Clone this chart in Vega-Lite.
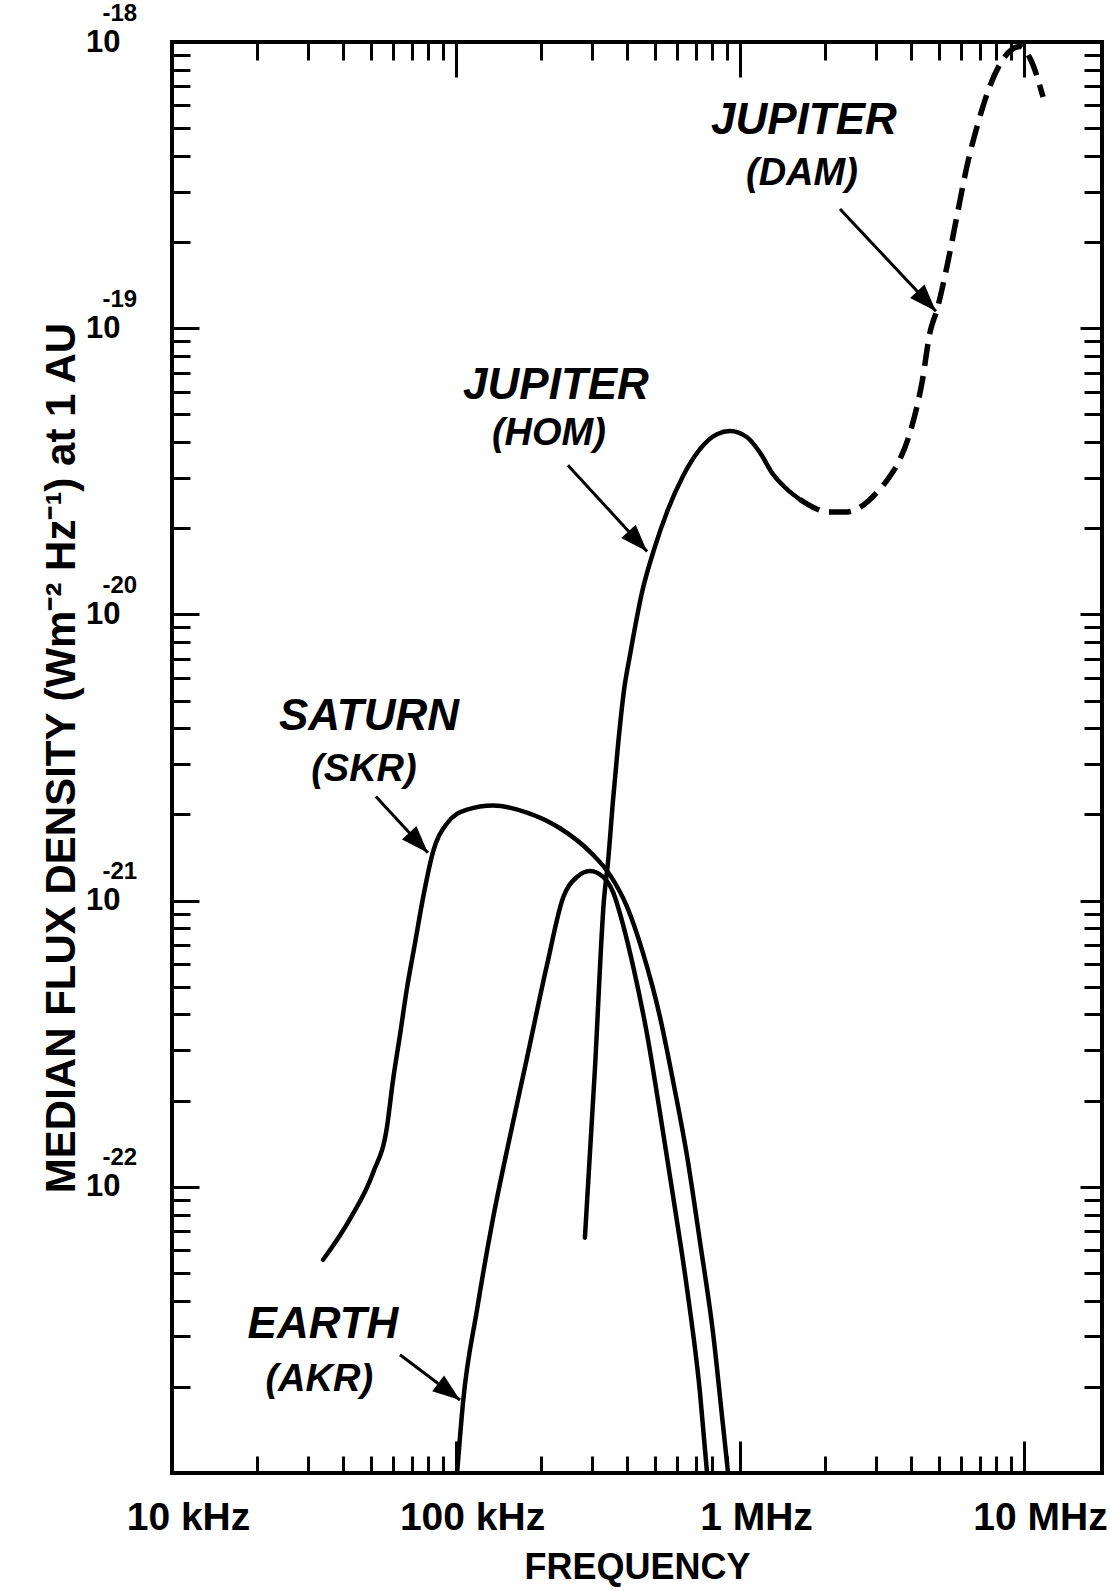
{
  "$schema": "https://vega.github.io/schema/vega-lite/v6.json",
  "width": 930,
  "height": 1431,
  "autosize": {"type": "none"},
  "padding": {"left": 172, "top": 42, "right": 8, "bottom": 118},
  "background": "white",
  "config": {
    "view": {"stroke": "black", "strokeWidth": 4},
    "axis": {"grid": false, "domain": false, "tickColor": "black", "labelColor": "black", "titleColor": "black", "tickWidth": 3}
  },
  "datasets": {
    "curves": [
      {"series": "Saturn (SKR)", "f": 34040, "s": 5.56e-23},
      {"series": "Saturn (SKR)", "f": 42360, "s": 7.73e-23},
      {"series": "Saturn (SKR)", "f": 51050, "s": 1.12e-22},
      {"series": "Saturn (SKR)", "f": 57150, "s": 1.62e-22},
      {"series": "Saturn (SKR)", "f": 59980, "s": 2.35e-22},
      {"series": "Saturn (SKR)", "f": 63530, "s": 3.40e-22},
      {"series": "Saturn (SKR)", "f": 67140, "s": 4.92e-22},
      {"series": "Saturn (SKR)", "f": 71780, "s": 7.13e-22},
      {"series": "Saturn (SKR)", "f": 76560, "s": 1.023e-21},
      {"series": "Saturn (SKR)", "f": 82990, "s": 1.48e-21},
      {"series": "Saturn (SKR)", "f": 92900, "s": 1.86e-21},
      {"series": "Saturn (SKR)", "f": 109400, "s": 2.08e-21},
      {"series": "Saturn (SKR)", "f": 134900, "s": 2.15e-21},
      {"series": "Saturn (SKR)", "f": 177800, "s": 2.03e-21},
      {"series": "Saturn (SKR)", "f": 232300, "s": 1.79e-21},
      {"series": "Saturn (SKR)", "f": 296500, "s": 1.48e-21},
      {"series": "Saturn (SKR)", "f": 348300, "s": 1.23e-21},
      {"series": "Saturn (SKR)", "f": 399900, "s": 9.53e-22},
      {"series": "Saturn (SKR)", "f": 455000, "s": 6.58e-22},
      {"series": "Saturn (SKR)", "f": 522400, "s": 3.93e-22},
      {"series": "Saturn (SKR)", "f": 580800, "s": 2.35e-22},
      {"series": "Saturn (SKR)", "f": 650100, "s": 1.29e-22},
      {"series": "Saturn (SKR)", "f": 722800, "s": 6.43e-23},
      {"series": "Saturn (SKR)", "f": 803500, "s": 3.09e-23},
      {"series": "Saturn (SKR)", "f": 871000, "s": 1.47e-23},
      {"series": "Saturn (SKR)", "f": 907800, "s": 1.0e-23},
      {"series": "Earth (AKR)", "f": 100900, "s": 1.0e-23},
      {"series": "Earth (AKR)", "f": 105900, "s": 1.77e-23},
      {"series": "Earth (AKR)", "f": 118600, "s": 3.72e-23},
      {"series": "Earth (AKR)", "f": 134900, "s": 7.73e-23},
      {"series": "Earth (AKR)", "f": 151400, "s": 1.35e-22},
      {"series": "Earth (AKR)", "f": 177800, "s": 2.82e-22},
      {"series": "Earth (AKR)", "f": 208900, "s": 5.93e-22},
      {"series": "Earth (AKR)", "f": 238200, "s": 1.023e-21},
      {"series": "Earth (AKR)", "f": 266700, "s": 1.21e-21},
      {"series": "Earth (AKR)", "f": 296500, "s": 1.27e-21},
      {"series": "Earth (AKR)", "f": 329600, "s": 1.21e-21},
      {"series": "Earth (AKR)", "f": 357300, "s": 1.07e-21},
      {"series": "Earth (AKR)", "f": 387300, "s": 8.24e-22},
      {"series": "Earth (AKR)", "f": 419800, "s": 5.93e-22},
      {"series": "Earth (AKR)", "f": 470900, "s": 3.40e-22},
      {"series": "Earth (AKR)", "f": 522400, "s": 1.82e-22},
      {"series": "Earth (AKR)", "f": 580800, "s": 9.31e-23},
      {"series": "Earth (AKR)", "f": 650100, "s": 4.44e-23},
      {"series": "Earth (AKR)", "f": 722800, "s": 1.91e-23},
      {"series": "Earth (AKR)", "f": 765600, "s": 1.0e-23},
      {"series": "Jupiter (HOM)", "f": 284400, "s": 6.64e-23},
      {"series": "Jupiter (HOM)", "f": 308300, "s": 2.56e-22},
      {"series": "Jupiter (HOM)", "f": 331900, "s": 1.007e-21},
      {"series": "Jupiter (HOM)", "f": 342800, "s": 1.36e-21},
      {"series": "Jupiter (HOM)", "f": 357300, "s": 2.25e-21},
      {"series": "Jupiter (HOM)", "f": 371500, "s": 3.45e-21},
      {"series": "Jupiter (HOM)", "f": 390800, "s": 5.47e-21},
      {"series": "Jupiter (HOM)", "f": 410200, "s": 7.24e-21},
      {"series": "Jupiter (HOM)", "f": 451900, "s": 1.194e-20},
      {"series": "Jupiter (HOM)", "f": 502300, "s": 1.73e-20},
      {"series": "Jupiter (HOM)", "f": 553400, "s": 2.28e-20},
      {"series": "Jupiter (HOM)", "f": 629500, "s": 3.04e-20},
      {"series": "Jupiter (HOM)", "f": 722800, "s": 3.78e-20},
      {"series": "Jupiter (HOM)", "f": 829800, "s": 4.26e-20},
      {"series": "Jupiter (HOM)", "f": 922600, "s": 4.37e-20},
      {"series": "Jupiter (HOM)", "f": 1059000, "s": 4.16e-20},
      {"series": "Jupiter (HOM)", "f": 1175000, "s": 3.68e-20},
      {"series": "Jupiter (HOM)", "f": 1306000, "s": 3.09e-20},
      {"series": "Jupiter (HOM)", "f": 1462000, "s": 2.74e-20},
      {"series": "Jupiter (HOM)", "f": 1626000, "s": 2.52e-20},
      {"series": "Jupiter (DAM)", "f": 1626000, "s": 2.52e-20},
      {"series": "Jupiter (DAM)", "f": 1807000, "s": 2.37e-20},
      {"series": "Jupiter (DAM)", "f": 2023000, "s": 2.28e-20},
      {"series": "Jupiter (DAM)", "f": 2382000, "s": 2.28e-20},
      {"series": "Jupiter (DAM)", "f": 2649000, "s": 2.37e-20},
      {"series": "Jupiter (DAM)", "f": 3034000, "s": 2.67e-20},
      {"series": "Jupiter (DAM)", "f": 3373000, "s": 3.04e-20},
      {"series": "Jupiter (DAM)", "f": 3656000, "s": 3.48e-20},
      {"series": "Jupiter (DAM)", "f": 3972000, "s": 4.33e-20},
      {"series": "Jupiter (DAM)", "f": 4375000, "s": 6.47e-20},
      {"series": "Jupiter (DAM)", "f": 4667000, "s": 9.68e-20},
      {"series": "Jupiter (DAM)", "f": 4943000, "s": 1.164e-19},
      {"series": "Jupiter (DAM)", "f": 5358000, "s": 1.648e-19},
      {"series": "Jupiter (DAM)", "f": 5808000, "s": 2.47e-19},
      {"series": "Jupiter (DAM)", "f": 6295000, "s": 3.68e-19},
      {"series": "Jupiter (DAM)", "f": 6839000, "s": 5.08e-19},
      {"series": "Jupiter (DAM)", "f": 7586000, "s": 7.02e-19},
      {"series": "Jupiter (DAM)", "f": 8500000, "s": 8.80e-19},
      {"series": "Jupiter (DAM)", "f": 9700000, "s": 9.65e-19},
      {"series": "Jupiter (DAM)", "f": 10600000, "s": 8.60e-19},
      {"series": "Jupiter (DAM)", "f": 11670000, "s": 6.43e-19}
    ],
    "arrows": [
      {"label": "DAM", "f1": 2249000, "s1": 2.61e-19, "f2": 4898000, "s2": 1.146e-19},
      {"label": "HOM", "f1": 247700, "s1": 3.32e-20, "f2": 471000, "s2": 1.66e-20},
      {"label": "SKR", "f1": 52200, "s1": 2.31e-21, "f2": 79600, "s2": 1.47e-21},
      {"label": "AKR", "f1": 63500, "s1": 2.59e-23, "f2": 103300, "s2": 1.80e-23}
    ],
    "labels": [
      {"line": 1, "text": "JUPITER", "f": 1679000, "s": 5.30e-19},
      {"line": 2, "text": "(DAM)", "f": 1652000, "s": 3.45e-19},
      {"line": 1, "text": "JUPITER", "f": 224900, "s": 6.26e-20},
      {"line": 2, "text": "(HOM)", "f": 212400, "s": 4.26e-20},
      {"line": 1, "text": "SATURN", "f": 49400, "s": 4.37e-21},
      {"line": 2, "text": "(SKR)", "f": 47400, "s": 2.85e-21},
      {"line": 1, "text": "EARTH", "f": 34000, "s": 3.29e-23},
      {"line": 2, "text": "(AKR)", "f": 33000, "s": 2.11e-23}
    ]
  },
  "resolve": {"axis": {"x": "independent", "y": "independent"}},
  "layer": [
    {
      "data": {"name": "curves"},
      "transform": [{"filter": "datum.series != 'Jupiter (DAM)'"}],
      "mark": {"type": "line", "color": "black", "strokeWidth": 4.5, "clip": true, "strokeCap": "round", "strokeJoin": "round", "interpolate": "monotone"},
      "encoding": {
        "x": {"field": "f", "type": "quantitative",
          "scale": {"type": "log", "domain": [10000, 18820000], "nice": false},
          "axis": {"orient": "bottom", "values": [10000, 100000, 1000000, 10000000], "ticks": false,
            "labelExpr": "datum.value >= 1000000 ? format(datum.value/1000000, '.0f') + ' MHz' : format(datum.value/1000, '.0f') + ' kHz'",
            "labelFont": "Liberation Sans", "labelFontWeight": "bold", "labelFontSize": 39,
            "labelPadding": 25, "labelOffset": 16, "labelFlush": false, "labelOverlap": false,
            "title": "FREQUENCY", "titleFont": "Liberation Sans", "titleFontWeight": "bold", "titleFontSize": 36, "titlePadding": 13}},
        "y": {"field": "s", "type": "quantitative",
          "scale": {"type": "log", "domain": [1e-23, 1e-18], "nice": false},
          "axis": {"orient": "left", "values": [1e-22, 1e-21, 1e-20, 1e-19, 1e-18], "ticks": false,
            "labelExpr": "'10'", "labelFont": "Liberation Sans", "labelFontWeight": "bold", "labelFontSize": 31,
            "labelPadding": 52, "labelFlush": false, "labelOverlap": false,
            "title": "MEDIAN FLUX DENSITY (Wm⁻² Hz⁻¹) at 1 AU", "titleFont": "Liberation Sans", "titleFontWeight": "bold", "titleFontSize": 42, "titlePadding": 2}},
        "detail": {"field": "series"}
      }
    },
    {
      "data": {"name": "curves"},
      "transform": [{"filter": "datum.series == 'Jupiter (DAM)'"}],
      "mark": {"type": "line", "color": "black", "strokeWidth": 5.5, "strokeDash": [22, 10], "clip": true, "interpolate": "monotone"},
      "encoding": {
        "x": {"field": "f", "type": "quantitative",
          "axis": {"orient": "bottom", "values": [100000, 1000000, 10000000], "labels": false, "tickSize": -32, "title": null}},
        "y": {"field": "s", "type": "quantitative",
          "axis": {"orient": "left", "values": [1e-22, 1e-21, 1e-20, 1e-19, 1e-18], "ticks": false,
            "labelExpr": "'-' + format(-log(datum.value)/LN10, '.0f')", "labelAlign": "left",
            "labelFont": "Liberation Sans", "labelFontWeight": "bold", "labelFontSize": 24,
            "labelPadding": 70, "labelOffset": -29, "labelFlush": false, "labelOverlap": false, "title": null}}
      }
    },
    {
      "data": {"name": "arrows"},
      "mark": {"type": "rule", "color": "black", "strokeWidth": 3},
      "encoding": {
        "x": {"field": "f1", "type": "quantitative",
          "axis": {"orient": "bottom", "values": [20000, 30000, 40000, 50000, 60000, 70000, 80000, 90000, 200000, 300000, 400000, 500000, 600000, 700000, 800000, 900000, 2000000, 3000000, 4000000, 5000000, 6000000, 7000000, 8000000, 9000000], "labels": false, "tickSize": -17, "title": null}},
        "y": {"field": "s1", "type": "quantitative",
          "axis": {"orient": "left", "values": [1e-22, 1e-21, 1e-20, 1e-19], "labels": false, "tickSize": -27, "title": null}},
        "x2": {"field": "f2"},
        "y2": {"field": "s2"}
      }
    },
    {
      "data": {"name": "arrows"},
      "transform": [{"filter": "datum.label == 'DAM'"}],
      "mark": {"type": "point", "shape": "M0,0L0.36,1L-0.36,1Z", "filled": true, "color": "black", "opacity": 1, "size": 3000, "angle": 137},
      "encoding": {
        "x": {"field": "f2", "type": "quantitative",
          "axis": {"orient": "top", "values": [100000, 1000000, 10000000], "labels": false, "tickSize": -35, "title": null}},
        "y": {"field": "s2", "type": "quantitative",
          "axis": {"orient": "left", "values": [2e-23, 3e-23, 4e-23, 5e-23, 6e-23, 7e-23, 8e-23, 9e-23, 2e-22, 3e-22, 4e-22, 5e-22, 6e-22, 7e-22, 8e-22, 9e-22, 2e-21, 3e-21, 4e-21, 5e-21, 6e-21, 7e-21, 8e-21, 9e-21, 2e-20, 3e-20, 4e-20, 5e-20, 6e-20, 7e-20, 8e-20, 9e-20, 2e-19, 3e-19, 4e-19, 5e-19, 6e-19, 7e-19, 8e-19, 9e-19], "labels": false, "tickSize": -18, "title": null}}
      }
    },
    {
      "data": {"name": "arrows"},
      "transform": [{"filter": "datum.label == 'HOM'"}],
      "mark": {"type": "point", "shape": "M0,0L0.36,1L-0.36,1Z", "filled": true, "color": "black", "opacity": 1, "size": 3000, "angle": 137},
      "encoding": {
        "x": {"field": "f2", "type": "quantitative",
          "axis": {"orient": "top", "values": [20000, 30000, 40000, 50000, 60000, 70000, 80000, 90000, 200000, 300000, 400000, 500000, 600000, 700000, 800000, 900000, 2000000, 3000000, 4000000, 5000000, 6000000, 7000000, 8000000, 9000000], "labels": false, "tickSize": -18, "title": null}},
        "y": {"field": "s2", "type": "quantitative",
          "axis": {"orient": "right", "values": [1e-22, 1e-21, 1e-20, 1e-19], "labels": false, "tickSize": -22, "title": null}}
      }
    },
    {
      "data": {"name": "arrows"},
      "transform": [{"filter": "datum.label == 'SKR'"}],
      "mark": {"type": "point", "shape": "M0,0L0.36,1L-0.36,1Z", "filled": true, "color": "black", "opacity": 1, "size": 3000, "angle": 137},
      "encoding": {
        "x": {"field": "f2", "type": "quantitative", "axis": null},
        "y": {"field": "s2", "type": "quantitative",
          "axis": {"orient": "right", "values": [2e-23, 3e-23, 4e-23, 5e-23, 6e-23, 7e-23, 8e-23, 9e-23, 2e-22, 3e-22, 4e-22, 5e-22, 6e-22, 7e-22, 8e-22, 9e-22, 2e-21, 3e-21, 4e-21, 5e-21, 6e-21, 7e-21, 8e-21, 9e-21, 2e-20, 3e-20, 4e-20, 5e-20, 6e-20, 7e-20, 8e-20, 9e-20, 2e-19, 3e-19, 4e-19, 5e-19, 6e-19, 7e-19, 8e-19, 9e-19], "labels": false, "tickSize": -18, "title": null}}
      }
    },
    {
      "data": {"name": "arrows"},
      "transform": [{"filter": "datum.label == 'AKR'"}],
      "mark": {"type": "point", "shape": "M0,0L0.36,1L-0.36,1Z", "filled": true, "color": "black", "opacity": 1, "size": 3000, "angle": 127},
      "encoding": {
        "x": {"field": "f2", "type": "quantitative", "axis": null},
        "y": {"field": "s2", "type": "quantitative", "axis": null}
      }
    },
    {
      "data": {"name": "labels"},
      "transform": [{"filter": "datum.line == 1"}],
      "mark": {"type": "text", "font": "Liberation Sans", "fontWeight": "bold", "fontStyle": "italic", "fontSize": 44, "color": "black", "align": "center", "baseline": "middle"},
      "encoding": {
        "x": {"field": "f", "type": "quantitative", "axis": null},
        "y": {"field": "s", "type": "quantitative", "axis": null},
        "text": {"field": "text"}
      }
    },
    {
      "data": {"name": "labels"},
      "transform": [{"filter": "datum.line == 2"}],
      "mark": {"type": "text", "font": "Liberation Sans", "fontWeight": "bold", "fontStyle": "italic", "fontSize": 38, "color": "black", "align": "center", "baseline": "middle"},
      "encoding": {
        "x": {"field": "f", "type": "quantitative", "axis": null},
        "y": {"field": "s", "type": "quantitative", "axis": null},
        "text": {"field": "text"}
      }
    }
  ]
}
